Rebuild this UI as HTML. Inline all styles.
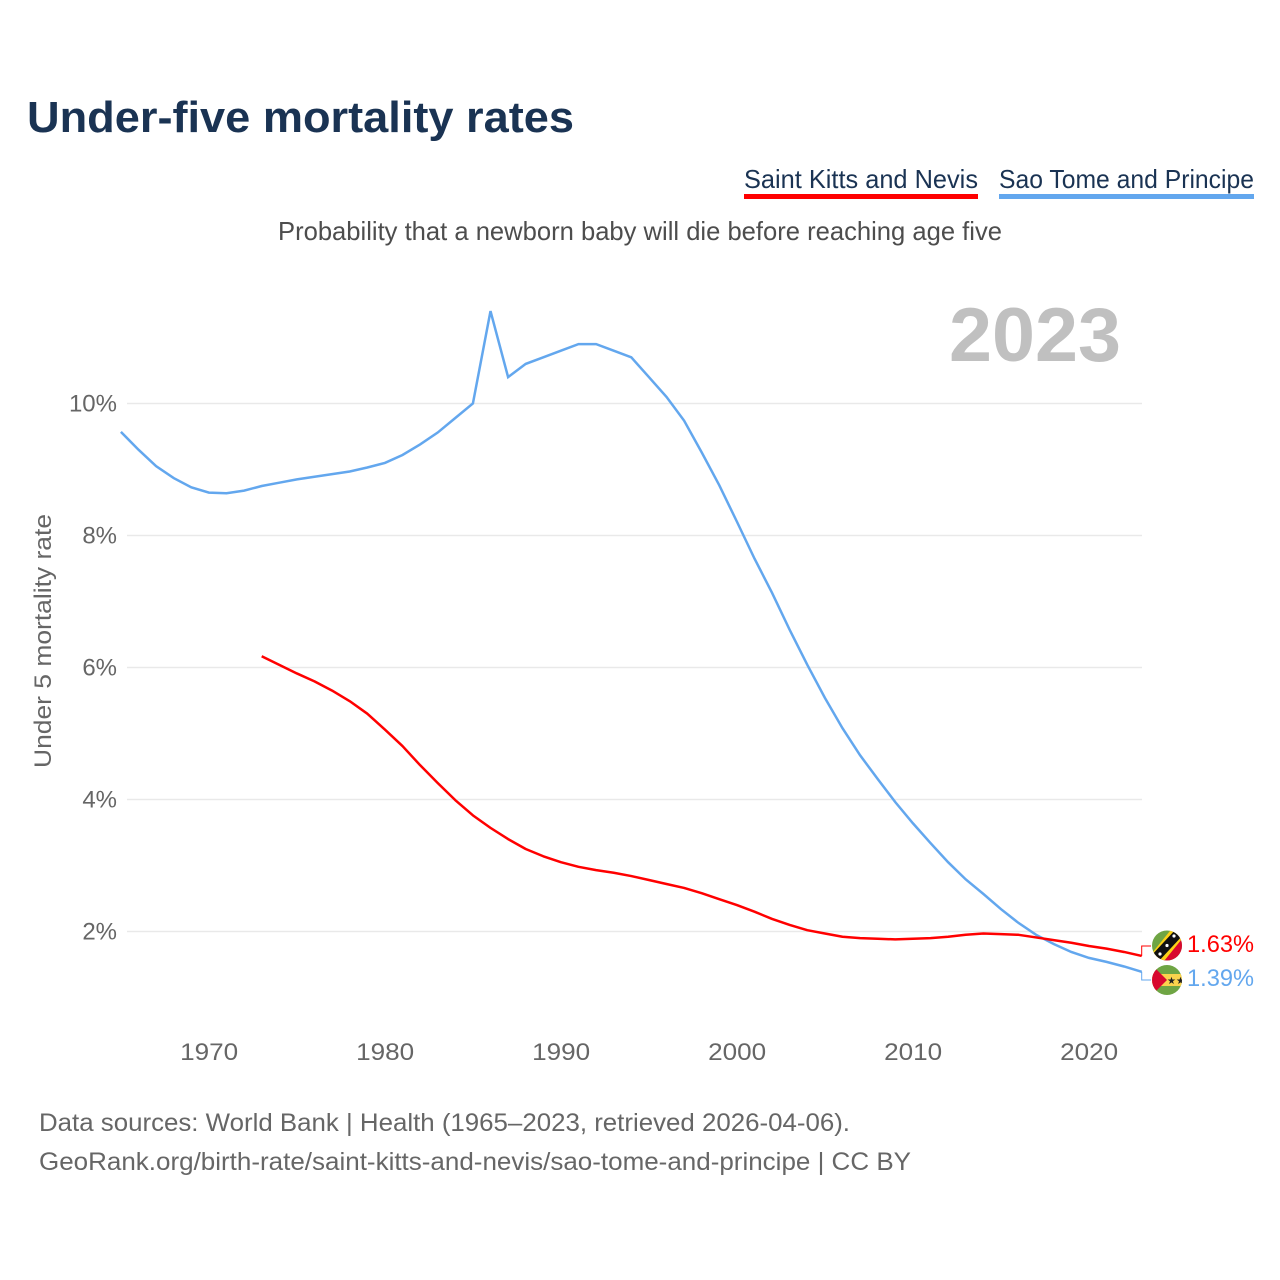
<!DOCTYPE html>
<html lang="en">
<head>
<meta charset="utf-8">
<title>Under-five mortality rates</title>
<style>
html,body{margin:0;padding:0;background:#fff;}
svg{display:block;font-family:"Liberation Sans",sans-serif;}
</style>
</head>
<body>
<svg id="chart" xmlns="http://www.w3.org/2000/svg" width="1280" height="1280" viewBox="0 0 1280 1280">
  <defs>
    <clipPath id="clip-kn"><circle cx="1167" cy="945.5" r="15"/></clipPath>
    <clipPath id="clip-st"><circle cx="1167" cy="980" r="15"/></clipPath>
  </defs>
  <rect width="1280" height="1280" fill="#fff"/>
  <text x="27" y="132" font-size="44" font-weight="700" fill="#1a3353" textLength="547" lengthAdjust="spacingAndGlyphs">Under-five mortality rates</text>

  <g>
    <text x="744" y="188" font-size="26" fill="#1a3353" textLength="234" lengthAdjust="spacingAndGlyphs">Saint Kitts and Nevis</text>
    <rect x="744" y="194" width="234" height="5" fill="#ff0000"/>
  </g>
  <g>
    <text x="999" y="188" font-size="26" fill="#1a3353" textLength="255" lengthAdjust="spacingAndGlyphs">Sao Tome and Principe</text>
    <rect x="999" y="194" width="255" height="5" fill="#63a7ee"/>
  </g>

  <text x="278" y="240" font-size="26" fill="#4d4d4d" textLength="724" lengthAdjust="spacingAndGlyphs">Probability that a newborn baby will die before reaching age five</text>
  <text x="1121" y="361" font-size="76" font-weight="700" fill="#c0c0c0" text-anchor="end" textLength="172" lengthAdjust="spacingAndGlyphs">2023</text>
  <text transform="translate(51,641) rotate(-90)" font-size="24" fill="#666" text-anchor="middle" textLength="254" lengthAdjust="spacingAndGlyphs">Under 5 mortality rate</text>

  <g id="grid"></g>
  <g id="yticks"></g>
  <g id="xticks"></g>
  <g id="series"></g>

  <g clip-path="url(#clip-kn)">
    <rect x="1150" y="928" width="34" height="35" fill="#6fa544"/>
    <polygon points="1184,928 1184,963 1150,963" fill="#d8082f"/>
    <polygon points="1174,926 1186,934 1160,966 1148,958" fill="#fcd116"/>
    <polygon points="1176,929 1183,935 1158,962 1151,956" fill="#111"/>
    <circle cx="1174" cy="936" r="1.6" fill="#fff"/>
    <circle cx="1167" cy="945.5" r="1.6" fill="#fff"/>
    <circle cx="1160" cy="954" r="1.6" fill="#fff"/>
  </g>
  <g clip-path="url(#clip-st)">
    <rect x="1150" y="963" width="34" height="34" fill="#6fa544"/>
    <rect x="1150" y="974" width="34" height="12" fill="#fbd34d"/>
    <polygon points="1150,963 1167,980 1150,997" fill="#d8082f"/>
    <text x="1167" y="984" font-size="10" fill="#222">★★</text>
  </g>

  <g id="endlabels"></g>

  <text x="39" y="1131" font-size="25" fill="#666" textLength="811" lengthAdjust="spacingAndGlyphs">Data sources: World Bank | Health (1965–2023, retrieved 2026-04-06).</text>
  <text x="39" y="1170" font-size="25" fill="#666" textLength="872" lengthAdjust="spacingAndGlyphs">GeoRank.org/birth-rate/saint-kitts-and-nevis/sao-tome-and-principe | CC BY</text>
</svg>
<script>
const xTickYears = [1970, 1980, 1990, 2000, 2010, 2020];
const yTickValues = [2, 4, 6, 8, 10];
const firstYear = 1965;
const lastYear = 2023;
const saoTomeStartYear = 1965;
const saintKittsStartYear = 1973;
const saoTomeValues = [9.57,9.30,9.05,8.87,8.73,8.65,8.64,8.68,8.75,8.80,8.85,8.89,8.93,8.97,9.03,9.10,9.22,9.38,9.56,9.78,10.0,11.4,10.4,10.6,10.7,10.8,10.9,10.9,10.8,10.7,10.4,10.1,9.74,9.26,8.76,8.21,7.65,7.13,6.57,6.04,5.54,5.08,4.67,4.31,3.96,3.64,3.34,3.05,2.79,2.57,2.34,2.13,1.95,1.81,1.69,1.6,1.54,1.47,1.39];
const saintKittsValues = [6.17,6.04,5.91,5.79,5.65,5.49,5.3,5.06,4.81,4.52,4.25,3.99,3.76,3.57,3.4,3.25,3.14,3.05,2.98,2.93,2.89,2.84,2.78,2.72,2.66,2.58,2.49,2.4,2.3,2.19,2.1,2.02,1.97,1.92,1.9,1.89,1.88,1.89,1.9,1.92,1.95,1.97,1.96,1.95,1.91,1.87,1.83,1.78,1.74,1.69,1.63];

const NS = 'http://www.w3.org/2000/svg';
const xScale = year => 120.9 + (year - firstYear) * (1141.7 - 120.9) / (lastYear - firstYear);
const yScale = value => 1063.5 - 66 * value;
const pctText = value => value.toFixed(2) + '%';

function make(tag, attrs, parent, text) {
  const el = document.createElementNS(NS, tag);
  for (const key in attrs) el.setAttribute(key, attrs[key]);
  if (text !== undefined) el.textContent = text;
  parent.appendChild(el);
  return el;
}

const grid = document.getElementById('grid');
const yticks = document.getElementById('yticks');
const xticks = document.getElementById('xticks');
const series = document.getElementById('series');
const endlabels = document.getElementById('endlabels');

yTickValues.forEach(v => {
  const line = make('line', {x1: 127, x2: 1142, y1: yScale(v), y2: yScale(v), stroke: '#e9e9e9', 'stroke-width': 1.5}, grid);
  
  
  const label = make('text', {x: 117, y: yScale(v) + 8, 'font-size': 24, fill: '#666', 'text-anchor': 'end'}, yticks, v + '%');
  
  
});

xTickYears.forEach(year => {
  const label = make('text', {x: xScale(year) + 0.3, y: 1060, 'font-size': 24, fill: '#666', 'text-anchor': 'middle', textLength: 58, lengthAdjust: 'spacingAndGlyphs'}, xticks, String(year));
  
  
});

function linePoints(values, startYear) {
  return values.map((v, i) => xScale(startYear + i).toFixed(2) + ',' + yScale(v).toFixed(2)).join(' ');
}

const saoLine = make('polyline', {points: linePoints(saoTomeValues, saoTomeStartYear), fill: 'none', stroke: '#63a7ee', 'stroke-width': 2.5, 'stroke-linejoin': 'miter'}, series);



const kittsLine = make('polyline', {points: linePoints(saintKittsValues, saintKittsStartYear), fill: 'none', stroke: '#ff0000', 'stroke-width': 2.5, 'stroke-linejoin': 'round'}, series);



const kittsLast = saintKittsValues[saintKittsValues.length - 1];
const saoLast = saoTomeValues[saoTomeValues.length - 1];
const endX = xScale(lastYear);

const kittsConnector = make('polyline', {points: [endX, yScale(kittsLast), endX, 946, 1151, 946].join(' '), fill: 'none', stroke: '#ff0000', 'stroke-width': 1}, endlabels);



const saoConnector = make('polyline', {points: [endX, yScale(saoLast), endX, 980, 1151, 980].join(' '), fill: 'none', stroke: '#63a7ee', 'stroke-width': 1}, endlabels);



const kittsLabel = make('text', {x: 1187, y: 952, 'font-size': 24, fill: '#ff0000', textLength: 67, lengthAdjust: 'spacingAndGlyphs'}, endlabels, pctText(kittsLast));



const saoLabel = make('text', {x: 1187, y: 986, 'font-size': 24, fill: '#63a7ee', textLength: 67, lengthAdjust: 'spacingAndGlyphs'}, endlabels, pctText(saoLast));


</script>
</body>
</html>
